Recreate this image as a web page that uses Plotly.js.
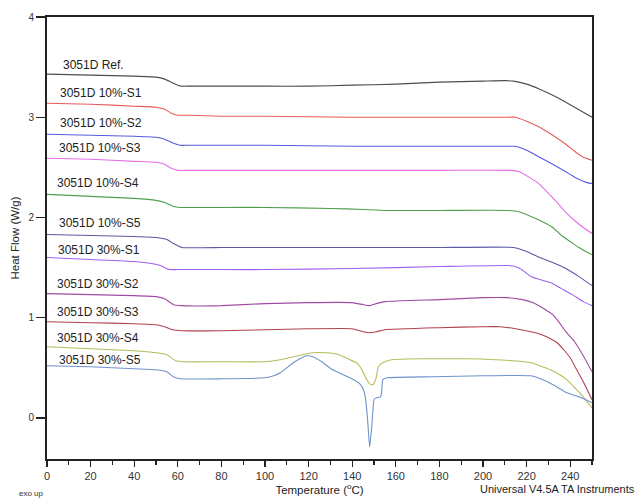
<!DOCTYPE html>
<html>
<head>
<meta charset="utf-8">
<script src="https://cdn.plot.ly/plotly-3.0.1.min.js"></script>
<style>html,body{margin:0;padding:0;background:#fff;}#chart{width:638px;height:498px;}</style>
</head>
<body>
<div id="chart"></div>
<script>
// ---- Data (Temperature °C vs Heat Flow W/g) ----
const seriesNames = ["3051D Ref.","3051D 10%-S1","3051D 10%-S2","3051D 10%-S3","3051D 10%-S4","3051D 10%-S5",
  "3051D 30%-S1","3051D 30%-S2","3051D 30%-S3","3051D 30%-S4","3051D 30%-S5"];

const refX = [0,20,40,50,54,57,60,62,65,80,100,120,140,160,180,200,210,214,220,226,232,238,242,246,250];
const refY = [3.43,3.42,3.41,3.40,3.38,3.35,3.32,3.31,3.31,3.31,3.31,3.31,3.32,3.33,3.35,3.36,3.365,3.36,3.33,3.28,3.22,3.15,3.10,3.05,3.00];

const s10_1X = [0,20,40,50,54,57,60,65,80,100,140,180,210,215,220,226,232,238,242,246,250];
const s10_1Y = [3.14,3.13,3.11,3.10,3.08,3.04,3.02,3.02,3.01,3.01,3.00,3.00,3.00,3.00,2.96,2.90,2.82,2.73,2.66,2.60,2.57];

const s10_2X = [0,20,40,50,54,58,61,65,80,100,140,180,210,215,220,226,232,236,240,244,248,250];
const s10_2Y = [2.83,2.82,2.81,2.80,2.78,2.74,2.72,2.72,2.72,2.72,2.71,2.71,2.71,2.71,2.67,2.60,2.53,2.48,2.43,2.38,2.345,2.34];

const s10_3X = [0,20,40,50,54,57,60,65,80,100,140,180,212,216,222,226,230,234,238,242,246,250];
const s10_3Y = [2.59,2.58,2.56,2.55,2.53,2.49,2.47,2.47,2.47,2.47,2.47,2.47,2.47,2.46,2.39,2.33,2.24,2.15,2.05,1.97,1.90,1.84];

const s10_4X = [0,20,40,50,54,58,61,80,100,130,145,155,180,212,216,222,228,232,236,240,244,248,250];
const s10_4Y = [2.23,2.21,2.19,2.17,2.15,2.11,2.10,2.10,2.10,2.09,2.08,2.07,2.07,2.07,2.06,2.01,1.95,1.90,1.82,1.76,1.70,1.65,1.63];

const s10_5X = [0,20,40,50,55,58,62,80,100,140,180,214,220,226,232,238,244,250];
const s10_5Y = [1.83,1.82,1.81,1.80,1.78,1.74,1.70,1.70,1.70,1.70,1.70,1.70,1.66,1.60,1.55,1.49,1.41,1.32];

const s30_1X = [0,20,40,48,52,56,60,80,100,140,180,212,216,219,222,226,231,236,241,246,250];
const s30_1Y = [1.60,1.58,1.56,1.54,1.52,1.48,1.48,1.48,1.48,1.49,1.51,1.52,1.50,1.46,1.41,1.38,1.35,1.29,1.23,1.16,1.12];

const s30_2X = [0,20,40,50,54,58,62,80,100,120,140,145,148,151,155,180,200,211,218,223,228,232,235,238,242,246,250];
const s30_2Y = [1.24,1.23,1.22,1.21,1.19,1.13,1.12,1.12,1.14,1.15,1.15,1.13,1.12,1.14,1.16,1.18,1.20,1.20,1.18,1.15,1.09,1.03,0.95,0.86,0.76,0.62,0.46];

const s30_3X = [0,20,40,50,54,57.5,62,80,100,120,140,145,148,151,155,180,200,208,215,222,227,231,234,237,240,243,246,250];
const s30_3Y = [0.96,0.95,0.94,0.93,0.91,0.88,0.87,0.87,0.88,0.89,0.89,0.86,0.85,0.86,0.88,0.90,0.91,0.91,0.89,0.86,0.83,0.79,0.75,0.68,0.60,0.48,0.36,0.18];

const s30_4X = [0,20,40,50,55,59,62,80,100,107,115,122,128,134,139,142,144,146,148,149.5,151,152,154,158,170,193,214,222,231,236,240,243,246,250];
const s30_4Y = [0.71,0.69,0.67,0.65,0.63,0.57,0.56,0.56,0.56,0.58,0.62,0.65,0.65,0.63,0.58,0.55,0.50,0.41,0.34,0.33,0.40,0.51,0.55,0.58,0.59,0.59,0.57,0.55,0.48,0.42,0.35,0.28,0.21,0.10];

const s30_5X = [0,20,40,50,55,58,61,80,100,104,107,110,113,116,119,122,126,131,135,139,143.5,145,146,147,148,149,150,151,153,153.5,154,156,177,200,222,227.5,233,238.5,244,250];
const s30_5Y = [0.52,0.51,0.49,0.48,0.46,0.41,0.39,0.39,0.40,0.42,0.45,0.50,0.55,0.59,0.62,0.61,0.56,0.48,0.44,0.40,0.34,0.29,0.21,0.0,-0.29,-0.08,0.18,0.20,0.21,0.25,0.38,0.40,0.41,0.42,0.42,0.38,0.32,0.25,0.21,0.15];

// Curve label anchor positions (°C, W/g)
const labelX = [6.4,5,5,4.6,3.7,4.6,4.1,3.7,3.7,3.7,4.6];
const labelY = [3.52,3.24,2.94,2.69,2.34,1.94,1.68,1.34,1.06,0.80,0.58];

const yTicks = [0,1,2,3,4];
const xTicks = [0,20,40,60,80,100,120,140,160,180,200,220,240];

// ---- Styling ----
const colors = ["#4d4d4d","#e85a5a","#5a5ae0","#e46ee8","#4f9f4f","#5a5aa6",
  "#a062ee","#a04aa6","#b24250","#b8bc5c","#6f93cc"];

const xs = [refX,s10_1X,s10_2X,s10_3X,s10_4X,s10_5X,s30_1X,s30_2X,s30_3X,s30_4X,s30_5X];
const ys = [refY,s10_1Y,s10_2Y,s10_3Y,s10_4Y,s10_5Y,s30_1Y,s30_2Y,s30_3Y,s30_4Y,s30_5Y];

const traces = seriesNames.map((n,i)=>({
  x: xs[i], y: ys[i], name: n, type: 'scatter', mode: 'lines',
  line: {color: colors[i], width: 1.1, shape: 'spline', smoothing: 0.4},
  hoverinfo: 'skip'
}));

const annotations = seriesNames.map((n,i)=>({
  x: labelX[i], y: labelY[i], xref: 'x', yref: 'y', text: n, showarrow: false,
  xanchor: 'left', yanchor: 'middle',
  font: {family: 'Liberation Sans, Arial, sans-serif', size: 12, color: '#222'}
}));
annotations.push({
  xref: 'paper', yref: 'paper', x: -0.055, y: -0.077, xanchor: 'left', yanchor: 'middle',
  text: 'exo up', showarrow: false,
  font: {family: 'Liberation Sans, Arial, sans-serif', size: 8, color: '#333'}
});
annotations.push({
  xref: 'paper', yref: 'paper', x: 1.083, y: -0.068, xanchor: 'right', yanchor: 'middle',
  text: 'Universal V4.5A TA Instruments', showarrow: false,
  font: {family: 'Liberation Sans, Arial, sans-serif', size: 11, color: '#222'}
});

const layout = {
  width: 638, height: 498,
  margin: {l: 47, r: 46, t: 17, b: 39},
  paper_bgcolor: '#fff', plot_bgcolor: '#fff',
  showlegend: false,
  font: {family: 'Liberation Sans, Arial, sans-serif', color: '#222'},
  xaxis: {
    range: [0, 250], tickvals: xTicks, ticktext: xTicks.map(String),
    ticks: 'outside', ticklen: 6, tickwidth: 1.3, tickcolor: '#222',
    minor: {dtick: 10, ticks: 'outside', ticklen: 4, tickwidth: 1.3, tickcolor: '#222'},
    showline: true, linecolor: '#222', linewidth: 2, mirror: true,
    showgrid: false, zeroline: false,
    tickfont: {size: 11, color: '#333'},
    title: {text: 'Temperature (<sup>o</sup>C)', font: {size: 11.5, color: '#222'}, standoff: 4}
  },
  yaxis: {
    range: [-0.41, 4], tickvals: yTicks, ticktext: yTicks.map(String),
    ticks: 'outside', ticklen: 9, tickwidth: 1.3, tickcolor: '#222',
    showline: true, linecolor: '#222', linewidth: 2, mirror: true,
    showgrid: false, zeroline: false,
    tickfont: {size: 10, color: '#333'},
    title: {text: 'Heat Flow (W/g)', font: {size: 11.5, color: '#222'}, standoff: 6}
  },
  annotations: annotations
};

Plotly.newPlot('chart', traces, layout, {displayModeBar: false, staticPlot: true});
</script>
</body>
</html>
